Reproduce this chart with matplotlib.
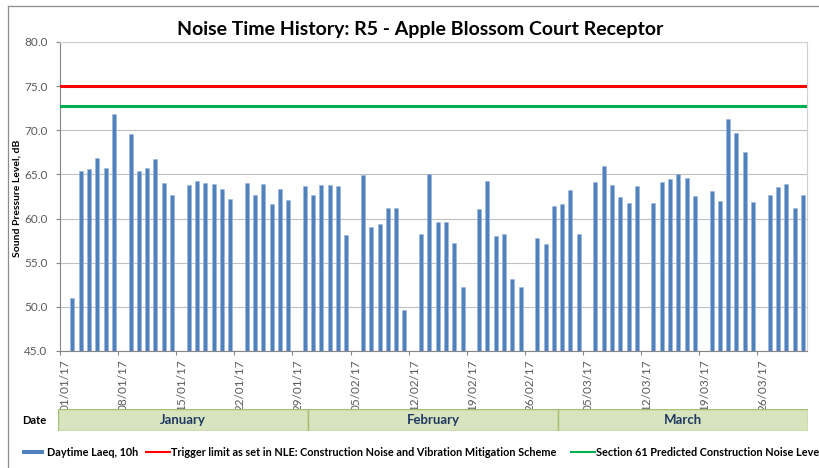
import matplotlib
matplotlib.use("Agg")
import matplotlib.pyplot as plt
from matplotlib.lines import Line2D
from matplotlib.patches import Rectangle
import pandas as pd

plt.rcParams["font.family"] = ["Lato", "DejaVu Sans"]

# daily measurements (Sundays not measured)
dates = [
    "2017-01-02", "2017-01-03", "2017-01-04", "2017-01-05", "2017-01-06", "2017-01-07",
    "2017-01-09", "2017-01-10", "2017-01-11", "2017-01-12", "2017-01-13", "2017-01-14",
    "2017-01-16", "2017-01-17", "2017-01-18", "2017-01-19", "2017-01-20", "2017-01-21",
    "2017-01-23", "2017-01-24", "2017-01-25", "2017-01-26", "2017-01-27", "2017-01-28",
    "2017-01-30", "2017-01-31", "2017-02-01", "2017-02-02", "2017-02-03", "2017-02-04",
    "2017-02-06", "2017-02-07", "2017-02-08", "2017-02-09", "2017-02-10", "2017-02-11",
    "2017-02-13", "2017-02-14", "2017-02-15", "2017-02-16", "2017-02-17", "2017-02-18",
    "2017-02-20", "2017-02-21", "2017-02-22", "2017-02-23", "2017-02-24", "2017-02-25",
    "2017-02-27", "2017-02-28", "2017-03-01", "2017-03-02", "2017-03-03", "2017-03-04",
    "2017-03-06", "2017-03-07", "2017-03-08", "2017-03-09", "2017-03-10", "2017-03-11",
    "2017-03-13", "2017-03-14", "2017-03-15", "2017-03-16", "2017-03-17", "2017-03-18",
    "2017-03-20", "2017-03-21", "2017-03-22", "2017-03-23", "2017-03-24", "2017-03-25",
    "2017-03-27", "2017-03-28", "2017-03-29", "2017-03-30", "2017-03-31",
]
laeq = [
    51.0, 65.4, 65.6, 66.9, 65.7, 71.9,
    69.6, 65.4, 65.7, 66.8, 64.0, 62.7,
    63.8, 64.3, 64.0, 63.9, 63.4, 62.2,
    64.0, 62.7, 63.9, 61.7, 63.4, 62.1,
    63.7, 62.7, 63.8, 63.8, 63.7, 58.1,
    64.9, 59.1, 59.4, 61.2, 61.2, 49.6,
    58.3, 65.1, 59.6, 59.6, 57.2, 52.2,
    61.1, 64.3, 58.0, 58.2, 53.2, 52.3,
    57.8, 57.1, 61.4, 61.6, 63.2, 58.2,
    64.1, 65.9, 63.8, 62.4, 61.8, 63.7,
    61.8, 64.1, 64.5, 65.1, 64.6, 62.5,
    63.1, 62.0, 71.3, 69.7, 67.5, 61.9,
    62.65, 63.6, 63.9, 61.2, 62.7,
]
trigger_limit = 75.0
section61_level = 72.8
months = ["January", "February", "March"]

series_label = "Daytime Laeq, 10h"
trigger_label = "Trigger limit as set in NLE: Construction Noise and Vibration Mitigation Scheme"
s61_label = "Section 61 Predicted Construction Noise Level"

W, H = 819, 468
fig = plt.figure(figsize=(W / 100, H / 100), dpi=100)


def fx(px):
    return px / W


def fy(py):
    return 1 - py / H


# outer chart frame (top and left edges visible)
fig.add_artist(Line2D([fx(8), 1], [fy(6), fy(6)], color="#8c8c8c", lw=0.9))
fig.add_artist(Line2D([fx(8), fx(8)], [fy(6), 0], color="#8c8c8c", lw=0.9))

ax = fig.add_axes([fx(60), fy(351), fx(807) - fx(60), fy(42) - fy(351)])

x = pd.to_datetime(dates) + pd.Timedelta(hours=12)
bar_blue = "#4F81BD"
ax.bar(x, laeq, width=0.48, color=bar_blue, edgecolor="#9bb7db", linewidth=0.4, zorder=3)
ax.axhline(trigger_limit, color="#FF0000", lw=2.2, zorder=4)
ax.axhline(section61_level, color="#00B050", lw=2.2, zorder=4)

ax.set_ylim(45, 80)
ax.set_yticks([45, 50, 55, 60, 65, 70, 75, 80])
ax.yaxis.set_major_formatter(matplotlib.ticker.FormatStrFormatter("%.1f"))
ax.set_xlim(pd.Timestamp("2017-01-01"), pd.Timestamp("2017-04-01"))
week_ticks = pd.date_range("2017-01-01", "2017-03-31", freq="7D")
ax.set_xticks(week_ticks)
ax.set_xticklabels([d.strftime("%d/%m/%y") for d in week_ticks],
                   rotation=90, ha="left", va="top")
ax.grid(axis="y", color="#bfbfbf", lw=0.8, zorder=0)
ax.tick_params(axis="y", length=3, color="#868686", labelsize=8.5,
               labelcolor="#595959", pad=6)
ax.tick_params(axis="x", length=3, color="#868686", labelsize=8.5,
               labelcolor="#595959", pad=3)
for side in ("top", "right"):
    ax.spines[side].set_color("#d0d0d0")
for side in ("left", "bottom"):
    ax.spines[side].set_color("#868686")

fig.text(fx(420), fy(29), "Noise Time History: R5 - Apple Blossom Court Receptor",
         ha="center", va="center", fontsize=14, fontweight="bold")
fig.text(fx(17), fy(198), "Sound Pressure Level, dB", rotation=90,
         ha="center", va="center", fontsize=7.5, fontweight="bold")

# month band below the date labels
band = fig.add_axes([fx(58), fy(431), fx(808) - fx(58), fy(409) - fy(431)])
band.set_xlim(0, len(months))
band.set_ylim(0, 1)
band.axis("off")
for i, m in enumerate(months):
    band.add_patch(Rectangle((i, 0), 1, 1, facecolor="#D7E4BD", edgecolor="#A5BF73", lw=1.0))
    band.text(i + 0.5, 0.5, m, ha="center", va="center", fontsize=9.5,
              fontweight="bold", color="#1F3864")
fig.text(fx(22), fy(421), "Date", ha="left", va="center", fontsize=8, fontweight="bold")

# legend row (last entry runs off the right edge, as in the source chart)
ly = fy(452)
fig.add_artist(Rectangle((fx(22), fy(454)), fx(44) - fx(22), fy(450) - fy(454),
                         transform=fig.transFigure, facecolor=bar_blue, edgecolor="none"))
fig.text(fx(47), ly, series_label, ha="left", va="center", fontsize=7.8, fontweight="bold")
fig.add_artist(Line2D([fx(146), fx(170)], [ly, ly], color="#FF0000", lw=1.5))
fig.text(fx(171), ly, trigger_label, ha="left", va="center", fontsize=7.8, fontweight="bold")
fig.add_artist(Line2D([fx(571), fx(595)], [ly, ly], color="#00B050", lw=1.5))
fig.text(fx(596), ly, s61_label, ha="left", va="center", fontsize=7.8, fontweight="bold")

fig.savefig("out.png", dpi=100)
